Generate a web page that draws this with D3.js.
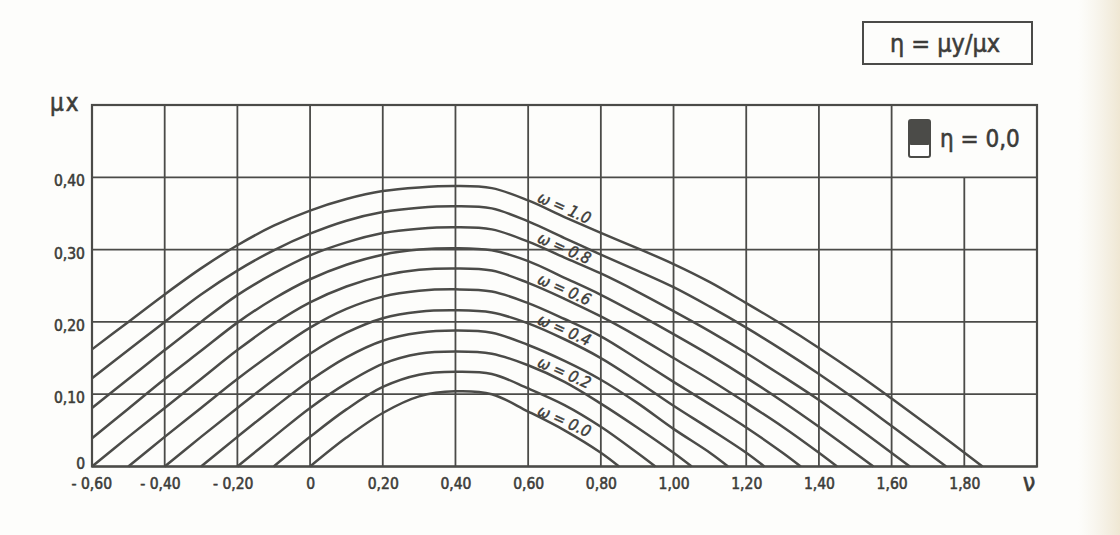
<!DOCTYPE html>
<html><head><meta charset="utf-8">
<script src="https://cdn.jsdelivr.net/npm/d3@7"></script>
<style>
body{margin:0;background:#fcfcfa;}
svg{display:block}
text{font-family:"DejaVu Sans Condensed","Liberation Sans Narrow","DejaVu Sans",sans-serif;}
</style>
</head><body>
<svg id="c" width="1120" height="535"></svg>
<script>
// ---- data ----
const omegas = [0.0,0.1,0.2,0.3,0.4,0.5,0.6,0.7,0.8,0.9,1.0];
const curve_w00 = [[0,0],[0.1,0.040],[0.2,0.074],[0.3,0.097],[0.4,0.104],[0.5,0.100],[0.6,0.076],[0.7,0.050],[0.8,0.019],[0.85,0]];
const curve_w01 = [[-0.1,0],[0,0.041],[0.1,0.079],[0.2,0.110],[0.3,0.127],[0.4,0.131],[0.5,0.128],[0.6,0.108],[0.7,0.085],[0.8,0.055],[0.9,0.019],[0.95,0]];
const curve_w02 = [[-0.2,0],[-0.1,0.041],[0,0.081],[0.1,0.115],[0.2,0.142],[0.3,0.156],[0.4,0.159],[0.5,0.156],[0.6,0.140],[0.7,0.117],[0.8,0.087],[0.9,0.054],[1.0,0.019],[1.05,0]];
const curve_w03 = [[-0.3,0],[-0.2,0.041],[-0.1,0.081],[0,0.119],[0.1,0.151],[0.2,0.174],[0.3,0.185],[0.4,0.188],[0.5,0.185],[0.6,0.168],[0.7,0.146],[0.8,0.120],[0.9,0.088],[1.0,0.052],[1.1,0.019],[1.15,0]];
const curve_w04 = [[-0.4,0],[-0.3,0.041],[-0.2,0.081],[-0.1,0.120],[0,0.156],[0.1,0.185],[0.2,0.205],[0.3,0.214],[0.4,0.216],[0.5,0.213],[0.6,0.198],[0.7,0.176],[0.8,0.150],[0.9,0.118],[1.0,0.084],[1.1,0.052],[1.2,0.019],[1.25,0]];
const curve_w05 = [[-0.5,0],[-0.4,0.041],[-0.3,0.081],[-0.2,0.121],[-0.1,0.158],[0,0.192],[0.1,0.218],[0.2,0.235],[0.3,0.243],[0.4,0.245],[0.5,0.242],[0.6,0.226],[0.7,0.204],[0.8,0.180],[0.9,0.149],[1.0,0.117],[1.1,0.086],[1.2,0.054],[1.3,0.019],[1.35,0]];
const curve_w06 = [[-0.6,0],[-0.5,0.041],[-0.4,0.081],[-0.3,0.121],[-0.2,0.161],[-0.1,0.197],[0,0.227],[0.1,0.249],[0.2,0.264],[0.3,0.272],[0.4,0.274],[0.5,0.271],[0.6,0.254],[0.7,0.232],[0.8,0.2075],[0.9,0.180],[1.0,0.150],[1.1,0.120],[1.2,0.088],[1.3,0.055],[1.4,0.019],[1.45,0]];
const curve_w07 = [[-0.6,0.039],[-0.5,0.080],[-0.4,0.121],[-0.3,0.160],[-0.2,0.199],[-0.1,0.232],[0,0.259],[0.1,0.279],[0.2,0.293],[0.3,0.300],[0.4,0.302],[0.5,0.299],[0.6,0.284],[0.7,0.261],[0.8,0.2375],[0.9,0.211],[1.0,0.183],[1.1,0.154],[1.2,0.123],[1.3,0.090],[1.4,0.055],[1.55,0]];
const curve_w08 = [[-0.6,0.081],[-0.5,0.121],[-0.4,0.161],[-0.3,0.200],[-0.2,0.237],[-0.1,0.267],[0,0.292],[0.1,0.310],[0.2,0.323],[0.3,0.329],[0.4,0.331],[0.5,0.328],[0.6,0.311],[0.7,0.289],[0.8,0.267],[0.9,0.242],[1.0,0.215],[1.1,0.187],[1.2,0.157],[1.3,0.125],[1.4,0.092],[1.5,0.056],[1.65,0]];
const curve_w09 = [[-0.6,0.122],[-0.5,0.161],[-0.4,0.200],[-0.3,0.238],[-0.2,0.271],[-0.1,0.299],[0,0.322],[0.1,0.340],[0.2,0.352],[0.3,0.358],[0.4,0.360],[0.5,0.357],[0.6,0.339],[0.7,0.316],[0.8,0.293],[0.9,0.271],[1.0,0.248],[1.1,0.221],[1.2,0.192],[1.3,0.161],[1.4,0.128],[1.5,0.093],[1.6,0.056],[1.75,0]];
const curve_w10 = [[-0.6,0.162],[-0.5,0.200],[-0.4,0.238],[-0.3,0.274],[-0.2,0.306],[-0.1,0.333],[0,0.354],[0.1,0.370],[0.2,0.381],[0.3,0.386],[0.4,0.388],[0.5,0.385],[0.6,0.368],[0.7,0.345],[0.8,0.323],[0.9,0.302],[1.0,0.280],[1.1,0.255],[1.2,0.226],[1.3,0.196],[1.4,0.164],[1.5,0.130],[1.6,0.094],[1.7,0.057],[1.85,0]];
const curves = [curve_w00,curve_w01,curve_w02,curve_w03,curve_w04,curve_w05,curve_w06,curve_w07,curve_w08,curve_w09,curve_w10];

const xTicks = [-0.6,-0.4,-0.2,0,0.2,0.4,0.6,0.8,1.0,1.2,1.4,1.6,1.8];
const xTickLabels = ["- 0,60","- 0,40","- 0,20","0","0,20","0,40","0,60","0,80","1,00","1,20","1,40","1,60","1,80"];
const yTicks = [0,0.1,0.2,0.3,0.4];
const yTickLabels = ["0","0,10","0,20","0,30","0,40"];
const labelOmegas = [1.0,0.8,0.6,0.4,0.2,0.0];
const labelTexts = ["ω = 1.0","ω = 0.8","ω = 0.6","ω = 0.4","ω = 0.2","ω = 0.0"];
const labelNu = 0.7;
const gridNu = [-0.6,-0.4,-0.2,0,0.2,0.4,0.6,0.8,1.0,1.2,1.4,1.6,1.8,2.0];
const gridMu = [0,0.1,0.2,0.3,0.4,0.5];
const yAxisTitle = "μx";
const xAxisTitle = "ν";
const boxTitle = "η = μy/μx";
const legendText = "η = 0,0";

// ---- drawing ----
const ink = "#4b4b48";
const txt = "#3c3c39";
const FONT = '"DejaVu Sans Condensed","Liberation Sans Narrow","DejaVu Sans",sans-serif';
const svg = d3.select("#c");
const defs = svg.append("defs");
const grad = defs.append("linearGradient").attr("id","edge").attr("x1","0").attr("x2","1");
grad.append("stop").attr("offset","0").attr("stop-color","#f3eee2").attr("stop-opacity",0);
grad.append("stop").attr("offset","1").attr("stop-color","#efe7d3").attr("stop-opacity",1);
svg.append("rect").attr("width",1120).attr("height",535).attr("fill","#fdfdfb");
svg.append("rect").attr("x",1078).attr("width",42).attr("height",535).attr("fill","url(#edge)");

const x = d3.scaleLinear().domain([-0.6, 2.0]).range([92, 1037]);
const y = d3.scaleLinear().domain([0, 0.5]).range([466.5, 105]);

const grid = svg.append("g").attr("stroke", ink).attr("stroke-width", 1.8);
grid.selectAll("line.v").data(gridNu).join("line").attr("class","v")
  .attr("x1", d=>x(d)).attr("x2", d=>x(d))
  .attr("y1", y(0)).attr("y2", d=> Math.abs(d-1.8)<1e-9 ? y(0.4) : y(0.5));
grid.selectAll("line.h").data(gridMu).join("line").attr("class","h")
  .attr("x1", x(-0.6)).attr("x2", x(2.0))
  .attr("y1", d=>y(d)).attr("y2", d=>y(d));

const line = d3.line().x(d=>x(d[0])).y(d=>y(d[1])).curve(d3.curveCatmullRom.alpha(0.5));
svg.append("g").selectAll("path").data(curves).join("path")
  .attr("d", line).attr("fill","none").attr("stroke", ink).attr("stroke-width", 2.5)
  .attr("stroke-linejoin","round");

svg.append("rect").attr("x", x(-0.6)).attr("y", y(0.5))
  .attr("width", x(2.0)-x(-0.6)).attr("height", y(0)-y(0.5))
  .attr("fill","none").attr("stroke", ink).attr("stroke-width", 2.2);

function ink_text(sel, size){
  return sel.attr("font-size", size).attr("fill", txt).attr("font-family", FONT)
    .attr("stroke", txt).attr("stroke-width", 0.55).attr("paint-order","stroke");
}

// axes
const xAxis = d3.axisBottom(x).tickValues(xTicks).tickFormat((d,i)=>xTickLabels[i]).tickSize(0).tickPadding(11);
const gx = svg.append("g").attr("transform", `translate(0,${y(0)})`).call(xAxis);
gx.select(".domain").remove();
ink_text(gx.selectAll("text"), 15.5)
  .each(function(d,i){
    const lab = xTickLabels[i];
    if (lab.startsWith("- ")) {
      const total = this.getComputedTextLength();
      const tmp = d3.select(this.parentNode).append("text").attr("font-size",15.5)
        .attr("font-family",FONT).text(lab.slice(2));
      const numW = tmp.node().getComputedTextLength();
      tmp.remove();
      d3.select(this).attr("dx", -(total-numW)/2 + (d===-0.6 ? 4 : 0));
    }
  });

const yAxis = d3.axisLeft(y).tickValues(yTicks).tickFormat((d,i)=>yTickLabels[i]).tickSize(0).tickPadding(7);
const gy = svg.append("g").attr("transform", `translate(${x(-0.6)},0)`).call(yAxis);
gy.select(".domain").remove();
ink_text(gy.selectAll("text"), 15.5)
  .attr("dy", d => d===0 ? "0.1em" : "0.55em");

// axis titles
ink_text(svg.append("text").attr("x", 50).attr("y", 111), 24).attr("letter-spacing", 2).text(yAxisTitle);
ink_text(svg.append("text").attr("x", x(2.0)-8).attr("y", 491).attr("text-anchor","middle"), 25).text(xAxisTitle);

// curve labels
function valueAt(pts, nu){
  for (let i=0;i<pts.length-1;i++){
    if (nu>=pts[i][0] && nu<=pts[i+1][0]){
      const t=(nu-pts[i][0])/(pts[i+1][0]-pts[i][0]);
      return pts[i][1]+t*(pts[i+1][1]-pts[i][1]);
    }
  }
  return 0;
}
ink_text(svg.append("g").selectAll("text").data(labelOmegas).join("text")
  .attr("transform", (w,i)=>{
    const pts = curves[Math.round(w*10)];
    const cx = x(labelNu), cy = y(valueAt(pts, labelNu)) - 9.5;
    return `translate(${cx},${cy}) rotate(24)`;
  })
  .attr("text-anchor","middle").attr("dy","0.35em")
  .attr("font-style","italic"), 16)
  .attr("stroke-width", 0.45)
  .text((w,i)=>labelTexts[i]);

// top box
svg.append("rect").attr("x",863).attr("y",22).attr("width",169).attr("height",42)
  .attr("fill","#fdfdfb").attr("stroke", ink).attr("stroke-width",2);
ink_text(svg.append("text").attr("x",945).attr("y",52).attr("text-anchor","middle"), 25)
  .text(boxTitle);

// legend in top-right cell
const lg = svg.append("g");
lg.append("rect").attr("x",909).attr("y",120).attr("width",21).attr("height",37).attr("rx",2)
  .attr("fill","#fff").attr("stroke", ink).attr("stroke-width",2);
lg.append("rect").attr("x",909).attr("y",120).attr("width",21).attr("height",25).attr("rx",2)
  .attr("fill", ink);
ink_text(lg.append("text").attr("x",940).attr("y",147), 24).text(legendText);
</script>
</body></html>
